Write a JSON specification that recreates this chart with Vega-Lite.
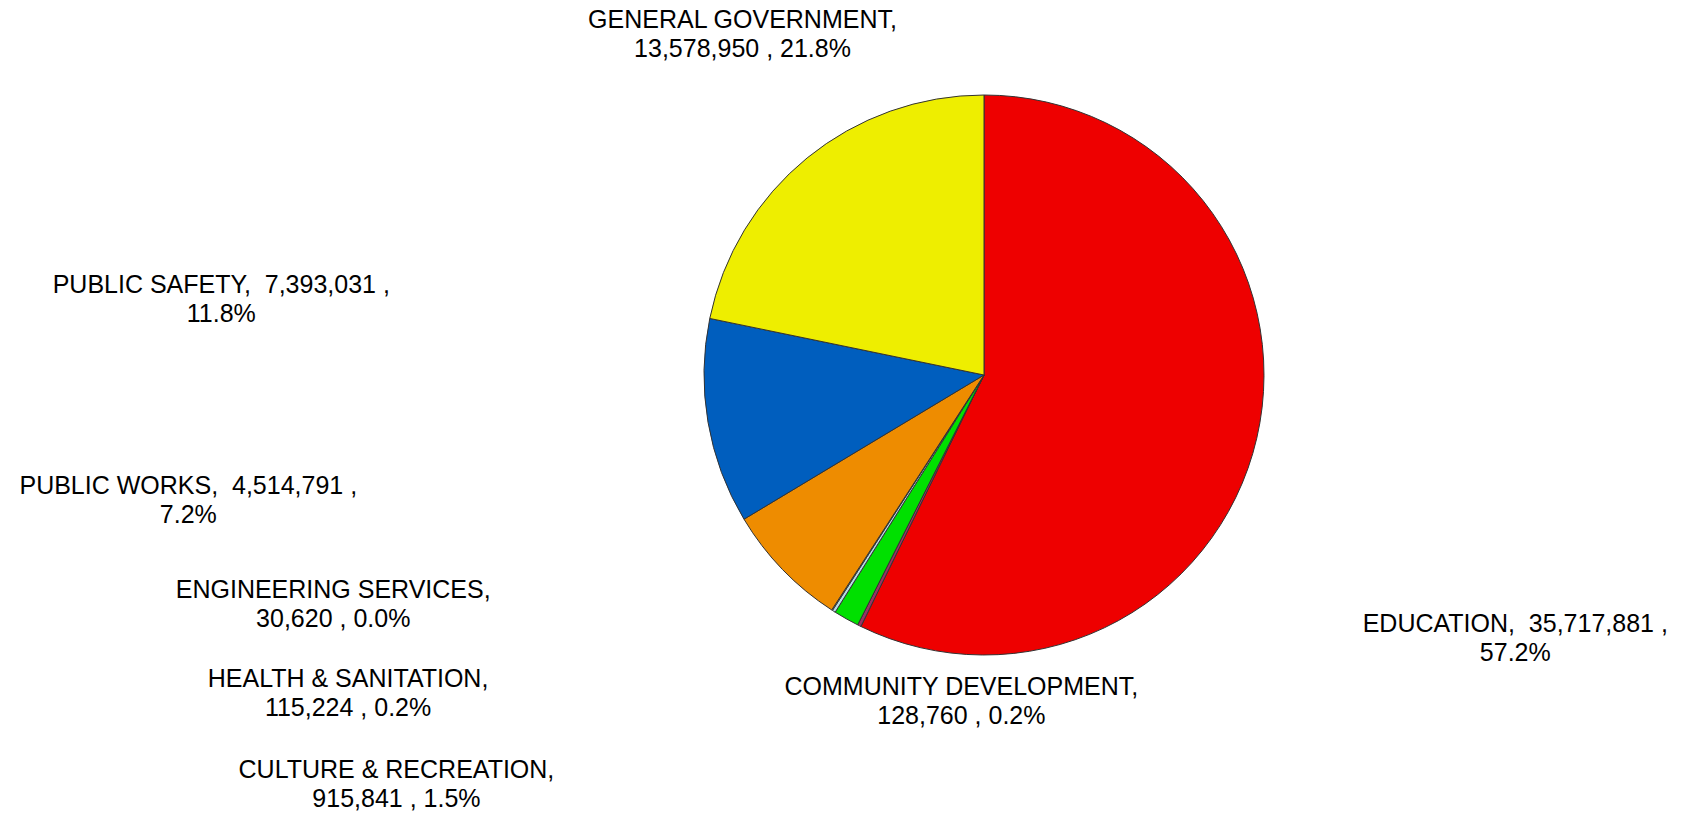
{
  "$schema": "https://vega.github.io/schema/vega-lite/v6.json",
  "width": 1396,
  "height": 750,
  "autosize": "none",
  "padding": {"left": 286, "right": 0, "top": 0, "bottom": 65},
  "background": "white",
  "config": {"view": {"stroke": null}},
  "data": {
    "values": [
      {"seq": 1, "category": "EDUCATION", "value": 35717881, "label": "EDUCATION, \u00a035,717,881 ,\n57.2%"},
      {"seq": 2, "category": "COMMUNITY DEVELOPMENT", "value": 128760, "label": "COMMUNITY DEVELOPMENT,\n128,760 , 0.2%"},
      {"seq": 3, "category": "CULTURE & RECREATION", "value": 915841, "label": "CULTURE & RECREATION,\n915,841 , 1.5%"},
      {"seq": 4, "category": "HEALTH & SANITATION", "value": 115224, "label": "HEALTH & SANITATION,\n115,224 , 0.2%"},
      {"seq": 5, "category": "ENGINEERING SERVICES", "value": 30620, "label": "ENGINEERING SERVICES,\n30,620 , 0.0%"},
      {"seq": 6, "category": "PUBLIC WORKS", "value": 4514791, "label": "PUBLIC WORKS, \u00a04,514,791 ,\n7.2%"},
      {"seq": 7, "category": "PUBLIC SAFETY", "value": 7393031, "label": "PUBLIC SAFETY, \u00a07,393,031 ,\n11.8%"},
      {"seq": 8, "category": "GENERAL GOVERNMENT", "value": 13578950, "label": "GENERAL GOVERNMENT,\n13,578,950 , 21.8%"}
    ]
  },
  "encoding": {
    "theta": {"field": "value", "type": "quantitative", "stack": true},
    "order": {"field": "seq", "type": "quantitative"}
  },
  "layer": [
    {
      "mark": {"type": "arc", "outerRadius": 280, "stroke": "#333333", "strokeWidth": 1},
      "encoding": {
        "color": {
          "field": "category",
          "type": "nominal",
          "scale": {
            "domain": ["EDUCATION", "COMMUNITY DEVELOPMENT", "CULTURE & RECREATION", "HEALTH & SANITATION", "ENGINEERING SERVICES", "PUBLIC WORKS", "PUBLIC SAFETY", "GENERAL GOVERNMENT"],
            "range": ["#EE0000", "#993366", "#00E000", "#B4DCE6", "#E6F5F5", "#EE8C00", "#005EBE", "#EEEE00"]
          },
          "legend": null
        }
      }
    },
    {
      "mark": {"type": "text", "font": "Liberation Sans", "fontSize": 25, "lineHeight": 29, "lineBreak": "\n", "align": "center", "baseline": "middle", "dx": 239, "dy": 181},
      "encoding": {"radius": {"value": 300}, "detail": {"field": "category"}, "color": {"value": "black"},
        "text": {"condition": {"test": "datum.seq === 1", "field": "label"}, "value": ""}}
    },
    {
      "mark": {"type": "text", "font": "Liberation Sans", "fontSize": 25, "lineHeight": 29, "lineBreak": "\n", "align": "center", "baseline": "middle", "dx": 111, "dy": 43},
      "encoding": {"radius": {"value": 300}, "detail": {"field": "category"}, "color": {"value": "black"},
        "text": {"condition": {"test": "datum.seq === 2", "field": "label"}, "value": ""}}
    },
    {
      "mark": {"type": "text", "font": "Liberation Sans", "fontSize": 25, "lineHeight": 29, "lineBreak": "\n", "align": "center", "baseline": "middle", "dx": -440, "dy": 134},
      "encoding": {"radius": {"value": 300}, "detail": {"field": "category"}, "color": {"value": "black"},
        "text": {"condition": {"test": "datum.seq === 3", "field": "label"}, "value": ""}}
    },
    {
      "mark": {"type": "text", "font": "Liberation Sans", "fontSize": 25, "lineHeight": 29, "lineBreak": "\n", "align": "center", "baseline": "middle", "dx": -475, "dy": 51},
      "encoding": {"radius": {"value": 300}, "detail": {"field": "category"}, "color": {"value": "black"},
        "text": {"condition": {"test": "datum.seq === 4", "field": "label"}, "value": ""}}
    },
    {
      "mark": {"type": "text", "font": "Liberation Sans", "fontSize": 25, "lineHeight": 29, "lineBreak": "\n", "align": "center", "baseline": "middle", "dx": -488, "dy": -37},
      "encoding": {"radius": {"value": 300}, "detail": {"field": "category"}, "color": {"value": "black"},
        "text": {"condition": {"test": "datum.seq === 5", "field": "label"}, "value": ""}}
    },
    {
      "mark": {"type": "text", "font": "Liberation Sans", "fontSize": 25, "lineHeight": 29, "lineBreak": "\n", "align": "center", "baseline": "middle", "dx": -580, "dy": -97},
      "encoding": {"radius": {"value": 300}, "detail": {"field": "category"}, "color": {"value": "black"},
        "text": {"condition": {"test": "datum.seq === 6", "field": "label"}, "value": ""}}
    },
    {
      "mark": {"type": "text", "font": "Liberation Sans", "fontSize": 25, "lineHeight": 29, "lineBreak": "\n", "align": "center", "baseline": "middle", "dx": -467, "dy": -140},
      "encoding": {"radius": {"value": 300}, "detail": {"field": "category"}, "color": {"value": "black"},
        "text": {"condition": {"test": "datum.seq === 7", "field": "label"}, "value": ""}}
    },
    {
      "mark": {"type": "text", "font": "Liberation Sans", "fontSize": 25, "lineHeight": 29, "lineBreak": "\n", "align": "center", "baseline": "middle", "dx": -52, "dy": -122},
      "encoding": {"radius": {"value": 300}, "detail": {"field": "category"}, "color": {"value": "black"},
        "text": {"condition": {"test": "datum.seq === 8", "field": "label"}, "value": ""}}
    }
  ]
}
